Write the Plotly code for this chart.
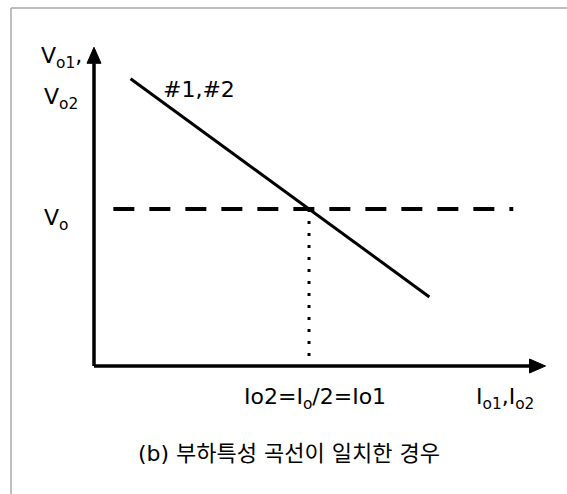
import plotly.graph_objects as go

W, H = 567, 494

# schematic values (arbitrary units); Vo and Io/2 meet at (10, 10)
v_o = 10
i_half = 10
load_i = [1.7, 15.6]      # #1,#2 load characteristic
load_v = [18.3, 4.4]
ref_i = [0.9, 19.5]       # extent of the Vo reference line
x_axis_end = 21.0
y_axis_end = 20.3

# frame: origin pixel and pixels per unit
ox, oy = 94, 366
sx, sy = 21.5, 15.7


def px(x):
    return (x - ox) / sx


def py(y):
    return (oy - y) / sy


FONT = "DejaVu Sans, Noto Sans CJK KR"
black = "#000000"

fig = go.Figure()

# axes with arrow heads
head_len, head_half = 16, 7
fig.add_trace(go.Scatter(x=[0, 0], y=[0, y_axis_end - head_len / sy], mode="lines",
                         line=dict(color=black, width=3.5)))
fig.add_trace(go.Scatter(x=[0, x_axis_end - head_len / sx], y=[0, 0], mode="lines",
                         line=dict(color=black, width=3.5)))
fig.add_trace(go.Scatter(
    x=[0, -head_half / sx, head_half / sx, 0],
    y=[y_axis_end, y_axis_end - head_len / sy, y_axis_end - head_len / sy, y_axis_end],
    mode="lines", fill="toself", fillcolor=black, line=dict(color=black, width=1)))
fig.add_trace(go.Scatter(
    x=[x_axis_end, x_axis_end - head_len / sx, x_axis_end - head_len / sx, x_axis_end],
    y=[0, head_half / sy, -head_half / sy, 0],
    mode="lines", fill="toself", fillcolor=black, line=dict(color=black, width=1)))

# Vo reference (dashed) and Io/2 marker (dotted)
fig.add_trace(go.Scatter(x=ref_i, y=[v_o, v_o], mode="lines",
                         line=dict(color=black, width=4, dash="21px,15px")))
fig.add_trace(go.Scatter(x=[i_half, i_half], y=[v_o, 0], mode="lines",
                         line=dict(color=black, width=3, dash="3px,9px")))

# load characteristic #1,#2
fig.add_trace(go.Scatter(x=load_i, y=load_v, mode="lines",
                         line=dict(color=black, width=3)))

labels = [
    ("V<sub>o1</sub>,", 39, 57),
    ("V<sub>o2</sub>", 42, 98),
    ("V<sub>o</sub>", 42, 219),
    ("#1,#2", 161, 89),
    ("Io2=I<sub>o</sub>/2=Io1", 242, 398),
    ("I<sub>o1</sub>,I<sub>o2</sub>", 474, 398),
]
for txt, x, y in labels:
    fig.add_annotation(x=px(x), y=py(y), text=txt, showarrow=False,
                       xanchor="left", yanchor="middle",
                       font=dict(family=FONT, size=22, color=black))

fig.add_annotation(x=px(289), y=py(453), text="(b) 부하특성 곡선이 일치한 경우",
                   showarrow=False, xanchor="center", yanchor="middle",
                   font=dict(family=FONT, size=22, color=black))

# light frame around the figure (left and top edges visible)
fig.add_shape(type="line", xref="paper", yref="paper",
              x0=11 / W, x1=11 / W, y0=0, y1=1 - 8 / H,
              line=dict(color="#a8a8a8", width=1.5))
fig.add_shape(type="line", xref="paper", yref="paper",
              x0=11 / W, x1=1, y0=1 - 8 / H, y1=1 - 8 / H,
              line=dict(color="#a8a8a8", width=1.5))

fig.update_xaxes(range=[px(0), px(W)], visible=False, fixedrange=True)
fig.update_yaxes(range=[py(H), py(0)], visible=False, fixedrange=True)
fig.update_layout(
    width=W, height=H,
    margin=dict(l=0, r=0, t=0, b=0),
    plot_bgcolor="white", paper_bgcolor="white",
    showlegend=False,
)

fig.write_html("out.html", config={"displayModeBar": False},
               post_script="document.body.style.margin='0';"
                           "document.body.style.overflow='hidden';"
                           "document.documentElement.style.overflow='hidden';")
